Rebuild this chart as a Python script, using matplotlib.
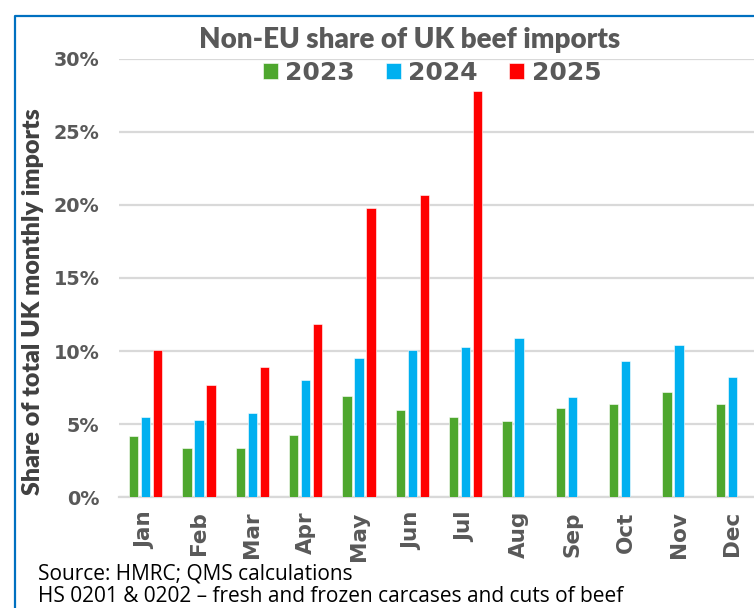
import numpy as np
import matplotlib.pyplot as plt
from matplotlib.lines import Line2D

months = ["Jan", "Feb", "Mar", "Apr", "May", "Jun", "Jul", "Aug", "Sep", "Oct", "Nov", "Dec"]
share_2023 = [4.2, 3.4, 3.4, 4.25, 6.9, 6.0, 5.5, 5.2, 6.1, 6.4, 7.2, 6.4]
share_2024 = [5.5, 5.3, 5.75, 8.0, 9.5, 10.1, 10.3, 10.9, 6.85, 9.3, 10.4, 8.25]
share_2025 = [10.1, 7.65, 8.9, 11.85, 19.75, 20.7, 27.8]
footnote = ["Source: HMRC; QMS calculations",
            "HS 0201 & 0202 \u2013 fresh and frozen carcases and cuts of beef"]

W, H = 754, 608
GREY = "#595959"

fig = plt.figure(figsize=(W / 100, H / 100), dpi=100)

# plot area in pixels (the right side is cropped in the original)
left, right, top, bottom = 119, 759, 58.6, 497.3
ax = fig.add_axes([left / W, 1 - bottom / H, (right - left) / W, (bottom - top) / H])

x = np.arange(len(months))
bw = 0.17
step = 0.225
b1 = ax.bar(x - step, share_2023, bw, color="#4EA72E", edgecolor="white", linewidth=0.4, zorder=3)
b2 = ax.bar(x, share_2024, bw, color="#00B0F0", edgecolor="white", linewidth=0.4, zorder=3)
b3 = ax.bar(x[:len(share_2025)] + step, share_2025, bw, color="#FF0000",
            edgecolor="white", linewidth=0.4, zorder=3)

ax.set_xlim(-0.5, len(months) - 0.5)
ax.set_ylim(0, 30)
ax.set_yticks(range(0, 31, 5))
ax.set_yticklabels(["%d%%" % v for v in range(0, 31, 5)])
ax.set_xticks(x)
ax.set_xticklabels(months, rotation=90)

ax.grid(True, axis="y", color="#D9D9D9", linewidth=1.6, zorder=0)
ax.set_axisbelow(True)
for s in ["top", "right", "left"]:
    ax.spines[s].set_visible(False)
ax.spines["bottom"].set_color("#D9D9D9")
ax.spines["bottom"].set_linewidth(1.6)
ax.tick_params(axis="both", length=0, colors=GREY)
ax.tick_params(axis="y", pad=14)
ax.tick_params(axis="x", pad=10)
for lab in ax.get_yticklabels():
    lab.set_fontfamily("DejaVu Sans")
    lab.set_fontweight("bold")
    lab.set_fontsize(13.8)
for lab in ax.get_xticklabels():
    lab.set_fontfamily("DejaVu Sans")
    lab.set_fontweight("bold")
    lab.set_fontsize(15.5)

fig.text(410 / W, 1 - 40 / H, "Non-EU share of UK beef imports", ha="center", va="center",
         fontsize=20, fontweight="heavy", family="Lato", color=GREY)

fig.text(33 / W, 1 - 302 / H, "Share of total UK monthly imports", ha="center", va="center",
         rotation=90, fontsize=18, fontweight="heavy", family="Lato", color="#404040")

leg = fig.legend([b1, b2, b3], ["2023", "2024", "2025"], loc="center",
                 bbox_to_anchor=(432 / W, 1 - 73 / H), ncol=3, frameon=False,
                 prop={"family": "DejaVu Sans", "weight": "bold", "size": 18},
                 handlelength=0.6, handleheight=0.6, handletextpad=0.3,
                 columnspacing=1.25)
for t in leg.get_texts():
    t.set_color(GREY)

# two-line footnote kept in one text so it fits the bottom edge
fig.text(38 / W, 0.5 / H, "\n".join(footnote), ha="left", va="bottom",
         fontsize=15, family="Open Sans", color="black", linespacing=1.12)

# blue frame (top and left edges visible)
frame = Line2D([14.7 / W, 14.7 / W, 1.0], [0.0, 1 - 15.7 / H, 1 - 15.7 / H],
               transform=fig.transFigure, color="#0070C0", linewidth=1.6)
fig.add_artist(frame)

fig.savefig("out.png", dpi=100)
